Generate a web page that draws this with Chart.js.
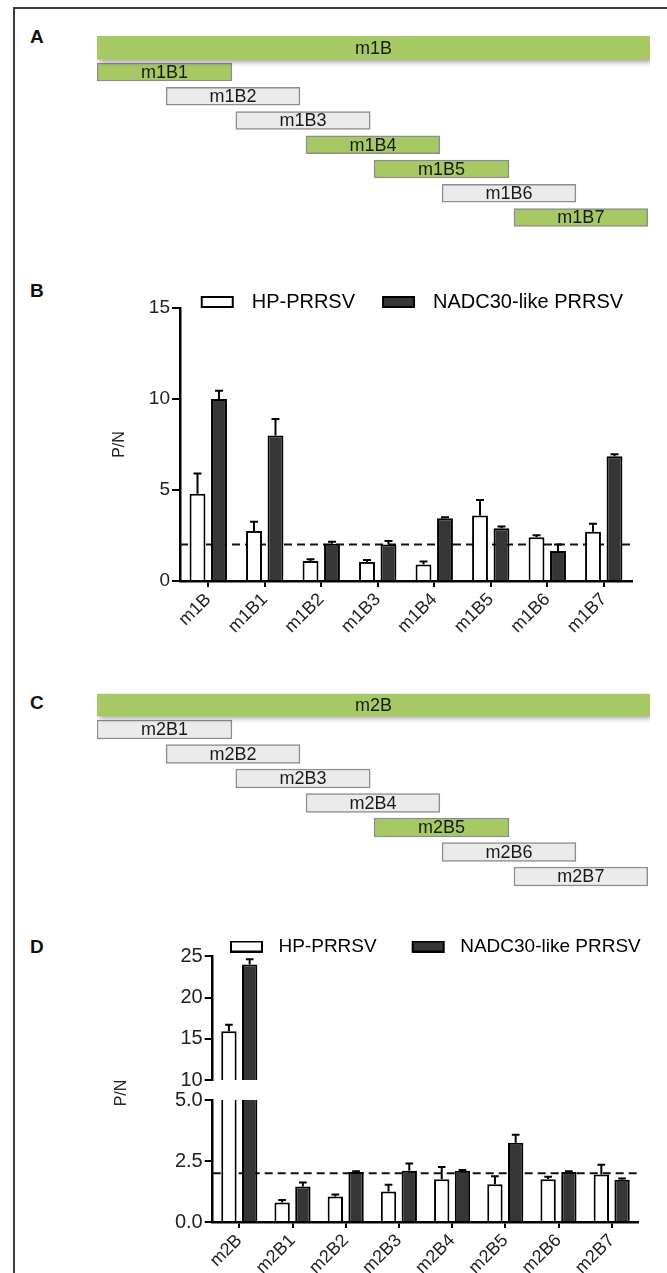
<!DOCTYPE html>
<html lang="en">
<head>
<meta charset="UTF-8">
<title>m1B / m2B fragments – P/N</title>
<style>
  html, body { margin: 0; padding: 0; background: #fff; }
  body { width: 667px; height: 1273px; position: relative; overflow: hidden;
         font-family: "Liberation Sans", Arial, sans-serif; }
  .frame { position: absolute; left: 13px; top: 7px; right: -5px; bottom: -10px;
           border-left: 2px solid #3d3d3d; border-top: 2px solid #3d3d3d; }
  .tag { position: absolute; left: 30px; font-weight: bold; font-size: 19px; line-height: 1; color: #111; }
  canvas { position: absolute; left: 0; }
  .ytitle { position: absolute; width: 40px; height: 18px; line-height: 18px; text-align: center;
            font-size: 16px; color: #222; transform: rotate(-90deg); }
</style>
</head>
<body>
  <div class="frame"></div>
  <div class="tag" style="top:27px">A</div>
  <div class="tag" style="top:281px">B</div>
  <div class="tag" style="top:693px">C</div>
  <div class="tag" style="top:937px">D</div>

  <canvas id="mapA" width="667" height="230" style="top:20px"></canvas>
  <canvas id="barB" width="667" height="373" style="top:268px"></canvas>
  <canvas id="mapC" width="667" height="230" style="top:680px"></canvas>
  <canvas id="barDtop" width="667" height="172" style="top:920px"></canvas>
  <canvas id="barDlow" width="667" height="192" style="top:1090px"></canvas>
  <div class="ytitle" style="left:101px; top:1084px">P/N</div>

  <script src="https://cdn.jsdelivr.net/npm/chart.js"></script>
  <script>
    // fragments and where they sit on the full-length protein (% of length)
    const FRAGMENTS_1 = ['m1B', 'm1B1', 'm1B2', 'm1B3', 'm1B4', 'm1B5', 'm1B6', 'm1B7'];
    const FRAGMENTS_2 = ['m2B', 'm2B1', 'm2B2', 'm2B3', 'm2B4', 'm2B5', 'm2B6', 'm2B7'];
    const SPAN_START = [0, 0, 12.5, 25.1, 37.8, 50.1, 62.4, 75.4];
    const SPAN_END   = [100, 24.4, 36.7, 49.4, 62.0, 74.5, 86.6, 99.6];
    // reactive fragments (green boxes)
    const POSITIVE_1 = [true, true, false, false, true, true, false, true];
    const POSITIVE_2 = [true, false, false, false, false, true, false, false];

    const SERIES = ['HP-PRRSV', 'NADC30-like PRRSV'];

    // panel B: P/N values and upper error
    const B_HP       = [4.8, 2.75, 1.1, 1.05, 0.9, 3.6, 2.4, 2.7];
    const B_HP_ERR   = [1.1, 0.5, 0.1, 0.1, 0.17, 0.85, 0.12, 0.45];
    const B_NADC     = [10.0, 8.0, 2.05, 2.0, 3.45, 2.9, 1.65, 6.85];
    const B_NADC_ERR = [0.45, 0.9, 0.1, 0.2, 0.05, 0.1, 0.35, 0.12];

    // panel D
    const D_HP       = [15.9, 0.8, 1.05, 1.25, 1.75, 1.55, 1.75, 1.95];
    const D_HP_ERR   = [0.8, 0.1, 0.08, 0.28, 0.5, 0.33, 0.1, 0.4];
    const D_NADC     = [24.0, 1.45, 2.05, 2.1, 2.1, 3.25, 2.05, 1.73];
    const D_NADC_ERR = [0.65, 0.17, 0.03, 0.3, 0.03, 0.33, 0.03, 0.05];

    const CUTOFF = 2;
    const B_TICKS = [0, 5, 10, 15];
    const B_TICK_LABELS = ['0', '5', '10', '15'];
    const D_TOP_TICKS = [10, 15, 20, 25];
    const D_TOP_TICK_LABELS = ['10', '15', '20', '25'];
    const D_LOW_TICKS = [0, 2.5, 5];
    const D_LOW_TICK_LABELS = ['0.0', '2.5', '5.0'];

    const GREEN = '#a6c964';
    const GREY = '#ebebeb';
    const FILLS = ['#ffffff', '#363636'];

    Chart.defaults.font.family = '"Liberation Sans", Arial, sans-serif';
    Chart.defaults.color = '#222';

    // --- plugins ---
    const barShadow = {
      id: 'barShadow',
      beforeDatasetDraw(chart, args) {
        if (args.index !== 0) return;
        const ctx = chart.ctx;
        ctx.save();
        ctx.shadowColor = 'rgba(0,0,0,0.35)';
        ctx.shadowBlur = 5;
        ctx.shadowOffsetX = 2;
        ctx.shadowOffsetY = 3;
      },
      afterDatasetDraw(chart, args) {
        if (args.index === 0) chart.ctx.restore();
      }
    };

    const barText = {
      id: 'barText',
      afterDatasetsDraw(chart) {
        const ctx = chart.ctx;
        const labels = chart.data.labels;
        ctx.save();
        ctx.font = '18px "Liberation Sans", Arial, sans-serif';
        ctx.fillStyle = '#1a1a1a';
        ctx.textAlign = 'center';
        ctx.textBaseline = 'middle';
        chart.data.datasets.forEach((ds, di) => {
          chart.getDatasetMeta(di).data.forEach((el, i) => {
            if (ds.data[i] == null) return;
            ctx.fillText(labels[i], (el.x + el.base) / 2, el.y + 1);
          });
        });
        ctx.restore();
      }
    };

    const errorBars = {
      id: 'errorBars',
      afterDatasetsDraw(chart, args, o) {
        const { ctx, chartArea: a } = chart;
        const y = chart.scales.y;
        ctx.save();
        ctx.beginPath();
        ctx.rect(a.left, a.top - 1, a.right - a.left, a.bottom - a.top + 1);
        ctx.clip();
        ctx.strokeStyle = '#000';
        ctx.lineWidth = 2;
        o.errors.forEach((errs, di) => {
          const vals = chart.data.datasets[di].data;
          chart.getDatasetMeta(di).data.forEach((bar, i) => {
            const top = y.getPixelForValue(vals[i]);
            const tip = y.getPixelForValue(vals[i] + errs[i]);
            const half = bar.width / 4;
            ctx.beginPath();
            ctx.moveTo(bar.x, top);
            ctx.lineTo(bar.x, tip);
            ctx.moveTo(bar.x - half, tip);
            ctx.lineTo(bar.x + half, tip);
            ctx.stroke();
          });
        });
        ctx.restore();
      }
    };

    const cutoffLine = {
      id: 'cutoffLine',
      beforeDatasetsDraw(chart, args, o) {
        const { ctx, chartArea: a } = chart;
        const y = chart.scales.y;
        if (o.value < y.min || o.value > y.max) return;
        const py = y.getPixelForValue(o.value);
        ctx.save();
        ctx.setLineDash([8, 5]);
        ctx.lineWidth = 2;
        ctx.strokeStyle = '#111';
        ctx.beginPath();
        ctx.moveTo(a.left, py);
        ctx.lineTo(a.right, py);
        ctx.stroke();
        ctx.restore();
      }
    };

    // put the legend where the original has it (it overlaps the plot top)
    const legendPlace = {
      id: 'legendPlace',
      afterLayout(chart, args, o) {
        const lg = chart.legend;
        if (!lg || o.left == null) return;
        lg.left = o.left;
        lg.right = chart.width;
        lg.top = o.top;
      }
    };

    function swatch(fill, lead, slot) {
      const c = document.createElement('canvas');
      c.width = lead + slot;
      c.height = 12;
      const g = c.getContext('2d');
      g.fillStyle = fill;
      g.fillRect(lead + 1, 1, 31, 10);
      g.strokeStyle = '#000';
      g.lineWidth = 2;
      g.strokeRect(lead + 1, 1, 31, 10);
      return c;
    }

    function legendItems(lead, slot) {
      return () => SERIES.map((text, i) => ({
        text, datasetIndex: i, hidden: false, lineWidth: 0,
        fillStyle: FILLS[i], strokeStyle: '#000',
        pointStyle: swatch(FILLS[i], lead, slot)
      }));
    }

    // --- fragment maps (A, C) ---
    function mapChart(id, labels, positive, pad, thick) {
      const main = labels.map((l, i) => i === 0 ? [SPAN_START[i], SPAN_END[i]] : null);
      const parts = labels.map((l, i) => i === 0 ? null : [SPAN_START[i], SPAN_END[i]]);
      return new Chart(document.getElementById(id), {
        type: 'bar',
        data: {
          labels,
          datasets: [
            { data: main, backgroundColor: GREEN, borderWidth: 0, barThickness: thick[0], grouped: false },
            { data: parts, backgroundColor: positive.map(p => p ? GREEN : GREY),
              borderColor: '#8d8d8d', borderWidth: 1.5, borderSkipped: false,
              barThickness: thick[1], grouped: false }
          ]
        },
        options: {
          indexAxis: 'y',
          responsive: false,
          animation: false,
          events: [],
          layout: { padding: pad },
          scales: {
            x: { display: false, min: 0, max: 100 },
            y: { display: false }
          },
          plugins: { legend: { display: false }, tooltip: { enabled: false } }
        },
        plugins: [barShadow, barText]
      });
    }

    // --- P/N bar charts (B, D) ---
    function barChart(id, o) {
      const axisGrid = tl => ({ drawOnChartArea: false, color: '#000', lineWidth: 2, tickLength: tl });
      return new Chart(document.getElementById(id), {
        type: 'bar',
        data: {
          labels: o.labels,
          datasets: [
            { label: SERIES[0], data: o.hp, backgroundColor: FILLS[0], borderColor: '#000', borderWidth: 2, clip: 0 },
            { label: SERIES[1], data: o.nadc, backgroundColor: FILLS[1], borderColor: '#000', borderWidth: 2, clip: 0 }
          ]
        },
        options: {
          responsive: false,
          animation: false,
          events: [],
          categoryPercentage: o.catPct,
          barPercentage: 0.74,
          layout: { padding: o.padding },
          scales: {
            x: {
              display: o.showX,
              grid: Object.assign(axisGrid(6), { offset: false }),
              border: { color: '#000', width: 2.5 },
              ticks: { font: { size: 18 }, color: '#222', minRotation: 45, maxRotation: 45, autoSkip: false, padding: 2 },
              afterFit: s => { s.height = o.showX ? 60 : 0; s.paddingLeft = 0; s.paddingRight = 0; }
            },
            y: {
              min: o.ticks[0],
              max: o.ticks[o.ticks.length - 1],
              afterBuildTicks: s => { s.ticks = o.ticks.map(v => ({ value: v })); },
              ticks: { font: { size: o.tickSize }, color: '#222', padding: 2,
                       callback: (v, i) => o.tickLabels[i] },
              grid: axisGrid(8),
              border: { color: '#000', width: 2.5 },
              title: o.title ? { display: true, text: o.title, font: { size: 16 }, color: '#222', padding: 0 } : { display: false },
              afterFit: s => { s.width = o.yWidth; s.paddingTop = 0; s.paddingBottom = 0; }
            }
          },
          plugins: {
            legend: o.legend ? {
              display: true,
              position: 'top',
              align: 'start',
              labels: {
                usePointStyle: true,
                pointStyleWidth: o.legend.lead + o.legend.slot,
                padding: 0,
                font: { size: o.legend.size },
                color: '#222',
                generateLabels: legendItems(o.legend.lead, o.legend.slot)
              }
            } : { display: false },
            legendPlace: o.legend ? { left: o.legend.left, top: o.legend.top } : {},
            tooltip: { enabled: false },
            errorBars: { errors: o.errors },
            cutoffLine: { value: CUTOFF }
          }
        },
        plugins: [legendPlace, cutoffLine, errorBars]
      });
    }

    mapChart('mapA', FRAGMENTS_1, POSITIVE_1,
      { top: 15.6, bottom: 20.4, left: 97, right: 17 }, [23, 18]);
    mapChart('mapC', FRAGMENTS_2, POSITIVE_2,
      { top: 12.75, bottom: 21.25, left: 97, right: 17 }, [22, 19]);

    barChart('barB', {
      labels: FRAGMENTS_1, hp: B_HP, nadc: B_NADC, errors: [B_HP_ERR, B_NADC_ERR],
      ticks: B_TICKS, tickLabels: B_TICK_LABELS, tickSize: 19, title: 'P/N',
      padding: { top: 10, left: 110, right: 35, bottom: 0 }, yWidth: 70,
      catPct: 0.76, showX: true,
      legend: { lead: 27, slot: 41, size: 20, left: 173.7, top: 24 }
    });

    barChart('barDtop', {
      labels: FRAGMENTS_2, hp: D_HP, nadc: D_NADC, errors: [D_HP_ERR, D_NADC_ERR],
      ticks: D_TOP_TICKS, tickLabels: D_TOP_TICK_LABELS, tickSize: 20,
      padding: { top: 7.3, left: 150, right: 28.7, bottom: 12 }, yWidth: 62.7,
      catPct: 0.78, showX: false,
      legend: { lead: 35, slot: 39, size: 19, left: 195, top: 17 }
    });

    barChart('barDlow', {
      labels: FRAGMENTS_2, hp: D_HP, nadc: D_NADC, errors: [D_HP_ERR, D_NADC_ERR],
      ticks: D_LOW_TICKS, tickLabels: D_LOW_TICK_LABELS, tickSize: 20,
      padding: { top: 10, left: 150, right: 28.7, bottom: 0 }, yWidth: 62.7,
      catPct: 0.78, showX: true
    });
  </script>
</body>
</html>
